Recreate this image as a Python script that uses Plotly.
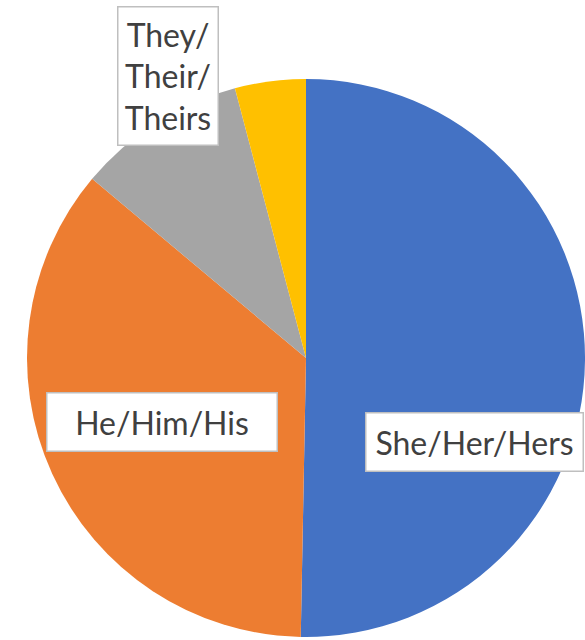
import plotly.graph_objects as go

# Pronoun shares (percent)
pronouns = ["She/Her/Hers", "He/Him/His", "They/Their/Theirs", "Other"]
shares = [50.3, 35.8, 9.8, 4.1]
colors = ["#4472C4", "#ED7D31", "#A5A5A5", "#FFC000"]

W, H = 585, 640

fig = go.Figure()
fig.add_trace(go.Pie(
    labels=pronouns,
    values=shares,
    sort=False,
    direction="clockwise",
    rotation=0,
    marker=dict(colors=colors, line=dict(width=0)),
    textinfo="none",
    hoverinfo="label+percent",
    domain=dict(x=[27 / W, 1.0], y=[1 - 638 / H, 1 - 78 / H]),
    showlegend=False,
))

# label boxes (Excel-style data callouts)
boxes = [
    ("She/Her/Hers", 474, 442, 216, 57),
    ("He/Him/His", 162, 422, 229, 57),
    ("They/<br>Their/<br>Theirs", 168, 76, 99, 137),
]
for txt, cx, cy, bw, bh in boxes:
    fig.add_annotation(
        x=cx / W, y=1 - cy / H, xref="paper", yref="paper",
        xanchor="center", yanchor="middle",
        text=txt, showarrow=False,
        width=bw, height=bh, align="center", valign="middle",
        font=dict(family="Lato", size=32, color="#404040"),
        bgcolor="white", bordercolor="#BFBFBF", borderwidth=1.5, borderpad=0,
    )

fig.update_layout(
    width=W, height=H,
    margin=dict(l=0, r=0, t=0, b=0),
    paper_bgcolor="white",
    plot_bgcolor="white",
)

fig.write_html(
    "out.html",
    config={"displayModeBar": False},
    post_script="document.body.style.margin='0';document.body.style.overflow='hidden';",
)
